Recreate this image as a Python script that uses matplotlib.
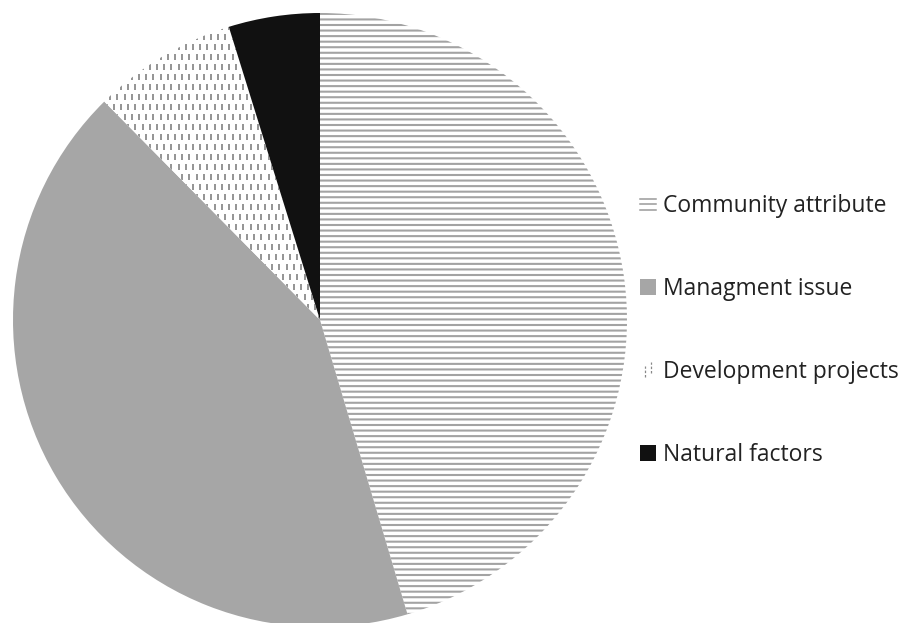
import numpy as np
import matplotlib
matplotlib.use("Agg")
import matplotlib.pyplot as plt
from matplotlib.patches import Patch
from matplotlib.lines import Line2D
from matplotlib.legend_handler import HandlerBase

categories = ["Community attribute", "Managment issue", "Development projects", "Natural factors"]
shares = [45.4, 42.2, 7.6, 4.8]

plt.rcParams["font.family"] = ["Open Sans", "DejaVu Sans"]
plt.rcParams["hatch.linewidth"] = 1.5

W, H, DPI = 906, 623, 100
fig = plt.figure(figsize=(W / DPI, H / DPI), dpi=DPI)

cx, cy, r = 320, 320, 307
ax = fig.add_axes([(cx - r) / W, (H - cy - r) / H, 2 * r / W, 2 * r / H])

faces = ["white", "#a6a6a6", "white", "#111111"]
edges = ["#a3a3a3", "none", "none", "none"]
hatches = ["---", None, None, None]

wedges, _ = ax.pie(shares, startangle=90, counterclock=False, radius=1,
                   colors=faces, frame=False,
                   wedgeprops=dict(linewidth=0))
ax.set_xlim(-1, 1)
ax.set_ylim(-1, 1)
ax.set_aspect("auto")
ax.axis("off")

for w, ec, h in zip(wedges, edges, hatches):
    if h:
        w.set_hatch(h)
        w.set_edgecolor(ec)
        w.set_linewidth(0)

# dashed texture for the development slice
dev = wedges[2]
sx, sy = 7.2 / r, 10.0 / r
xs, ys = [], []
for j, y in enumerate(np.arange(-1, 1, sy)):
    off = (j % 2) * sx / 2
    for x in np.arange(-1 + off, 1, sx):
        xs.append(x)
        ys.append(y)
dash = ax.scatter(xs, ys, marker="|", s=22, linewidths=1.1, color="#777777", zorder=3)
dash.set_clip_path(dev)


class DashHandler(HandlerBase):
    def create_artists(self, legend, orig, xd, yd, width, height, fontsize, trans):
        arts = []
        for fx, dy in ((0.3, 0.0), (0.7, 0.25)):
            ln = Line2D([xd + fx * width] * 2,
                        [yd + (0.05 + dy) * height, yd + (0.75 + dy) * height],
                        color="#888888", linewidth=0.9, linestyle=(0, (2, 1.5)))
            ln.set_transform(trans)
            arts.append(ln)
        return arts


class LinesHandler(HandlerBase):
    def create_artists(self, legend, orig, xd, yd, width, height, fontsize, trans):
        arts = []
        for fy in (0.15, 0.5, 0.85):
            ln = Line2D([xd, xd + width], [yd + fy * height] * 2,
                        color="#9a9a9a", linewidth=1.1)
            ln.set_transform(trans)
            arts.append(ln)
        return arts


handles = [Patch(facecolor="white", edgecolor="white", linewidth=0),
           Patch(facecolor="#a6a6a6", edgecolor="#a6a6a6", linewidth=0),
           Patch(facecolor="white", edgecolor="white", linewidth=0),
           Patch(facecolor="#111111", edgecolor="#111111", linewidth=0)]
leg = fig.legend(handles, categories, loc="upper left",
                 bbox_to_anchor=(631 / W, 1 - 185 / H), frameon=False,
                 fontsize=16.5, handlelength=0.7, handleheight=0.7,
                 handletextpad=0.3, labelspacing=2.57, borderaxespad=0,
                 handler_map={handles[0]: LinesHandler(), handles[2]: DashHandler()})
for t in leg.get_texts():
    t.set_color("#222222")

fig.savefig("out.png", dpi=DPI, facecolor="white")
